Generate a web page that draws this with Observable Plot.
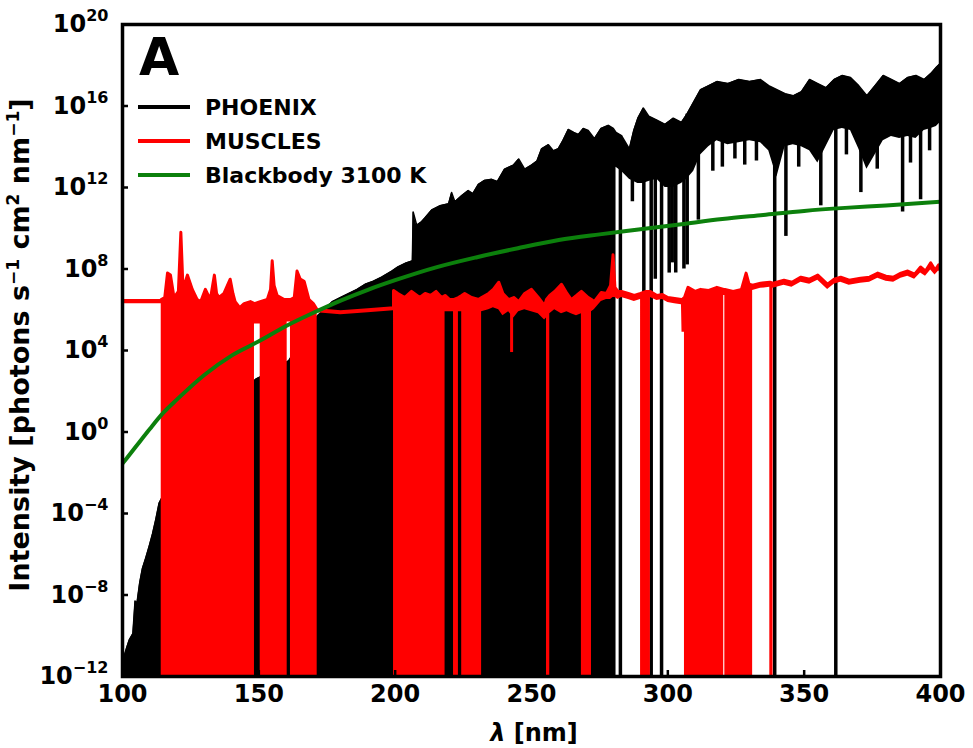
<!DOCTYPE html>
<html>
<head>
<meta charset="utf-8">
<script src="https://cdn.jsdelivr.net/npm/d3@7"></script>
<script src="https://cdn.jsdelivr.net/npm/@observablehq/plot@0.6"></script>
<style>
  body { margin: 0; background: #fff; }
  #chart svg { display: block; }
</style>
</head>
<body>
<div id="chart"></div>
<script>
// ---------------- DATA (log10 of intensity, photons s^-1 cm^-2 nm^-1) ----------------
// PHOENIX model: [wavelength nm, upper envelope log10, lower envelope log10] (-13 = below plot floor)
const phoenixSpectrum = [
  [100.0,-12.6,-13],[100.6,-11.0,-13],[101.5,-10.6,-13],[102.5,-10.2,-13],[103.8,-9.9,-13],
  [104.6,-8.3,-13],[105.3,-8.4,-13],[106.3,-7.4,-13],[107.3,-6.7,-13],[108.5,-6.2,-13],
  [109.8,-5.6,-13],[111.0,-5.0,-13],[112.2,-4.3,-13],[113.4,-3.5,-13],[120,-1.8,-13],
  [130,0.2,-13],[140,1.6,-13],[149,2.6,-13],[155,3.0,-13],[161,3.5,-13],[166,4.6,-13],
  [171.5,5.7,-13],[174,6.0,-13],[177,6.4,-13],[180,6.6,-13],[183,6.8,-13],[186,7.0,-13],
  [189,7.25,-13],[192,7.4,-13],[195,7.6,-13],[198.8,7.9,-13],[201,8.1,-13],[204,8.3,-13],
  [206.3,8.4,-13],[206.6,10.8,-13],[207.9,10.15,-13],[209.5,10.3,-13],[210.9,10.5,-13],
  [213.4,10.9,-13],[216.4,11.1,-13],[219.6,11.2,-13],[220.7,11.75,-13],[221.9,11.3,-13],
  [224.4,11.6,-13],[226.8,11.85,-13],[228.5,11.7,-13],[230.5,12.15,-13],[232.8,12.35,-13],
  [235.4,12.4,-13],[237.5,12.3,-13],[240.1,12.9,-13],[243.4,13.1,-13],[245.3,13.4,-13],
  [247.5,12.9,-13],[250.0,13.1,-13],[252,13.3,-13],[253.7,13.9,-13],[256.2,14.1,-13],
  [258,13.8,-13],[259.8,13.9,-13],[261.5,14.3,-13],[263.5,14.85,-13],[265.5,14.7,-13],
  [267.2,14.6,-13],[269,14.9,-13],[270.8,14.8,-13],[273.1,14.4,-13],[275.5,14.9,-13],
  [278.2,15.05,-13],[280.0,14.9,-13],[281.0,14.7,-13],
  [281.0,14.7,13.0],[283.0,14.55,12.8],[285.9,13.9,12.4],[287.5,14.8,12.3],[289.0,15.4,12.2],
  [291.0,15.9,12.2],[293.0,15.5,12.3],[296.0,15.3,12.4],[299.0,15.1,12.0],[302.0,15.4,12.0],
  [305.0,15.2,12.2],[307.0,15.6,12.4],[309.5,16.2,12.8],[312.0,16.8,13.6],[315.0,17.0,14.0],
  [318.0,17.2,14.3],[322.0,17.1,14.1],[326.0,17.3,14.2],[330.0,17.2,14.3],[334.0,17.3,14.2],
  [337.0,17.0,13.8],[340.0,16.8,12.5],[343.0,16.6,14.0],[346.0,16.5,14.1],[349.0,16.7,14.0],
  [352.0,17.3,13.8],[355.0,17.1,13.2],[358.0,16.9,14.0],[361.0,17.3,14.8],[364.0,17.5,14.9],
  [367.0,17.4,14.8],[370.0,17.0,13.9],[373.0,16.5,12.9],[376.0,17.0,13.6],[379.0,17.5,14.3],
  [382.0,17.3,14.5],[385.0,17.1,14.4],[388.0,17.4,14.5],[391.0,17.5,14.4],[394.0,17.3,14.8],
  [396.5,17.6,14.9],[398.5,17.9,15.0],[400.0,18.1,15.2]
];
// PHOENIX narrow absorption lines: [wavelength nm, minimum log10]
const phoenixLines = [
  [282.6,-13],[291.2,-13],[293.9,-13],[297.7,-13],[339.2,-13],[361.6,-13],
  [287.0,11.3],[295.4,7.5],[300.5,7.8],[301.6,8.3],[302.9,7.8],[305.9,8.0],[307.1,8.2],
  [311.2,10.4],[316.5,12.8],[320.0,13.0],[324.6,13.4],[328.2,13.1],[332.5,13.3],
  [343.3,9.6],[348.0,13.0],[356.1,11.1],[365.5,13.6],[370.8,11.75],[376.8,12.9],
  [386.1,10.8],[389.0,13.2],[392.7,11.4],[396.0,13.8]
];
// MUSCLES spectrum: [wavelength nm, upper log10, lower log10]
const musclesSpectrum = [
  [100,6.45,6.3],[114.2,6.45,6.3],[114.2,6.5,-13],[115.5,6.6,-13],[116.5,7.8,-13],[117.6,7.7,-13],
  [118.9,6.6,-13],[120.5,6.9,-13],[121.4,9.8,-13],[122.2,7.0,-13],[123.8,7.7,-13],[125.6,7.0,-13],
  [127.4,6.5,-13],[128.7,6.4,-13],[130.4,7.0,-13],[132.2,6.5,-13],[133.7,7.7,-13],[134.5,6.8,-13],
  [135.4,6.6,-13],[137.2,6.8,-13],[139.5,7.5,-13],[140.5,6.8,-13],[141.3,6.4,-13],[143.0,6.1,-13],
  [144.6,6.3,-13],[146.9,6.4,-13],[148.4,6.3,-13],[148.4,6.3,5.3],[150.5,6.4,5.3],[150.5,6.4,-13],
  [153.1,6.5,-13],[154.3,7.0,-13],[154.9,8.4,-13],[155.6,7.2,-13],[156.7,6.7,-13],[159.3,6.5,-13],
  [160.4,6.5,-13],[160.4,6.5,5.4],[161.6,6.5,5.4],[161.6,6.5,-13],[163.0,6.6,-13],[164.0,7.9,-13],
  [165.2,7.5,-13],[166.6,7.4,-13],[168.4,6.5,-13],[170.0,6.3,-13],[171.4,6.0,-13],[171.4,6.0,5.85],
  [180,5.9,5.75],[190,6.0,5.85],[199.4,6.1,5.95],[199.4,6.95,-13],[201,6.8,-13],[203.5,6.6,-13],
  [206,6.9,-13],[209,6.6,-13],[211,6.8,-13],[213,6.7,-13],[215,6.9,-13],[217,6.6,-13],
  [218.3,6.7,-13],[218.3,6.7,5.9],[220,6.5,5.9],[221.4,6.5,5.9],[221.4,6.5,-13],[223.2,6.6,-13],
  [223.2,6.6,5.9],[224.4,6.7,5.9],[224.4,6.7,-13],[225.5,6.8,-13],[228,6.6,-13],[230.6,6.5,-13],
  [231.7,6.6,-13],[231.7,6.6,5.9],[234.3,6.8,6.0],[236,7.0,6.1],[238,7.35,6.0],[239.5,6.8,5.7],
  [241.6,6.5,5.9],[243.5,6.6,5.6],[245.3,6.4,5.9],[247.5,6.8,6.0],[250,7.0,5.9],[252.5,6.6,5.8],
  [254.8,6.2,5.5],[255.5,6.5,5.6],[255.5,6.5,-13],[256.7,6.7,-13],[256.7,6.7,5.8],[258.5,6.9,6.0],
  [261,7.25,5.8],[263,6.8,5.9],[264.6,6.5,5.8],[266.5,6.7,5.7],[268.3,6.9,5.8],[268.3,6.9,-13],
  [270.8,6.6,-13],[272,6.5,-13],[272,6.5,5.9],[273,6.4,6.0],[275.6,6.85,6.4],[277.5,6.8,6.5],
  [279.0,7.2,6.5],[279.9,8.7,6.6],[280.6,7.1,6.6],[281.7,6.9,6.5],[283,6.9,6.6],[285.5,6.8,6.5],
  [287.7,6.7,6.4],[290.0,6.8,6.5],[290.0,6.8,-13],[292,6.9,-13],[293.6,6.9,-13],[293.6,6.9,6.6],
  [296,6.7,6.45],[298,6.75,6.5],[300,6.6,6.35],[302.5,6.55,6.3],[305.0,6.5,6.25],[305.2,6.5,4.9],
  [306.1,6.6,4.9],[306.1,6.6,-13],[307.4,7.1,-13],[310,6.9,-13],[312,7.0,-13],[315,6.95,-13],
  [318,7.1,-13],[320.5,7.0,-13],[320.5,7.0,6.7],[320.9,7.0,6.7],[320.9,7.0,-13],[324,6.9,-13],
  [327,7.0,-13],[328.7,7.8,-13],[329.8,7.25,-13],[331.1,7.2,-13],[331.1,7.2,6.95],[334,7.3,7.05],
  [337.4,7.35,7.1],[337.4,7.35,-13],[338.6,7.3,-13],[338.6,7.3,7.05],[342.6,7.45,7.2],[345.5,7.35,7.1],
  [348.8,7.6,7.35],[352,7.5,7.25],[355,7.7,7.45],[358.6,7.25,7.0],[361,7.5,7.25],[363.4,7.6,7.35],
  [366.5,7.45,7.2],[370.7,7.55,7.3],[374,7.6,7.35],[377,7.8,7.55],[380,7.65,7.4],[382.8,7.6,7.35],
  [385.5,7.8,7.55],[388,7.9,7.65],[390.5,7.75,7.5],[392.7,8.1,7.8],[394.5,7.9,7.65],[396.4,8.3,7.95],
  [398,7.95,7.7],[399.3,8.2,7.9],[400,8.1,7.85]
];
// MUSCLES narrow drops: [wavelength nm, minimum log10]
const musclesLines = [[242.7,3.9]];
// Blackbody 3100 K: wavelength nm / log10 intensity
const blackbodyWl  = [100,105,110,115,120,130,140,150,160,170,180,190,200,215,230,245,260,275,290,305,320,335,350,365,380,400];
const blackbodyLog = [-1.55,-0.7,0.15,0.95,1.6,2.8,3.75,4.45,5.2,5.85,6.45,6.98,7.45,8.08,8.58,9.02,9.42,9.7,9.95,10.2,10.45,10.65,10.85,11.0,11.12,11.3];

const seriesNames = ["PHOENIX", "MUSCLES", "Blackbody 3100 K"];
const xTicks = [100, 150, 200, 250, 300, 350, 400];
const yTickExponents = [-12, -8, -4, 0, 4, 8, 12, 16, 20];

// ---------------- BUILD ----------------
const colors = {PHOENIX: "#000000", MUSCLES: "#ff0000", "Blackbody 3100 K": "#0c800c"};
const toRows = spec => spec.map(([wl, hi, lo]) => ({wl, hi: 10 ** hi, lo: 10 ** lo}));
const phoenix = toRows(phoenixSpectrum);
const muscles = toRows(musclesSpectrum);
const bb = blackbodyWl.map((wl, i) => ({wl, v: 10 ** blackbodyLog[i]}));
function topAt(spec, wl) {
  let i = spec.findIndex(d => d[0] >= wl);
  if (i <= 0) i = 1;
  return Math.min(spec[i - 1][1], spec[i][1]);
}
const phoenixLineRows = phoenixLines.map(([wl, m]) => ({wl, y1: 10 ** m, y2: 10 ** topAt(phoenixSpectrum, wl)}));
const musclesLineRows = musclesLines.map(([wl, m]) => ({wl, y1: 10 ** m, y2: 10 ** topAt(musclesSpectrum, wl)}));
const yTicks = yTickExponents.map(e => 10 ** e);

const chart = Plot.plot({
  width: 973,
  height: 748,
  marginLeft: 122,
  marginRight: 33,
  marginTop: 24,
  marginBottom: 72,
  style: {fontFamily: "'DejaVu Sans', sans-serif", fontSize: "24px", fontWeight: "bold", color: "black", background: "white", overflow: "visible"},
  x: {domain: [100, 400]},
  y: {type: "log", domain: [1e-12, 1e20]},
  marks: [
    Plot.areaY(phoenix, {x: "wl", y1: "lo", y2: "hi", fill: colors.PHOENIX, clip: true}),
    Plot.line(phoenix, {x: "wl", y: "hi", stroke: colors.PHOENIX, strokeWidth: 1.5, clip: true}),
    Plot.ruleX(phoenixLineRows, {x: "wl", y1: "y1", y2: "y2", stroke: colors.PHOENIX, strokeWidth: 3.5, clip: true}),
    Plot.areaY(muscles, {x: "wl", y1: "lo", y2: "hi", fill: colors.MUSCLES, clip: true}),
    Plot.line(muscles, {x: "wl", y: "hi", stroke: colors.MUSCLES, strokeWidth: 3, clip: true}),
    Plot.ruleX(musclesLineRows, {x: "wl", y1: "y1", y2: "y2", stroke: colors.MUSCLES, strokeWidth: 3, clip: true}),
    Plot.line(bb, {x: "wl", y: "v", stroke: colors["Blackbody 3100 K"], strokeWidth: 4, curve: "monotone-x", clip: true}),
    Plot.frame({stroke: "black", strokeWidth: 3.5}),
    Plot.axisX(xTicks, {anchor: "bottom", tickSize: -6, strokeWidth: 2.5, fill: "none", label: null}),
    Plot.axisX(xTicks, {anchor: "bottom", tickSize: 0, tickPadding: 8, stroke: "none", label: null, fontSize: 24}),
    Plot.axisY(yTicks, {anchor: "left", tickSize: -6, strokeWidth: 2.5, fill: "none", label: null}),
    Plot.axisY(yTicks, {anchor: "left", tickSize: 0, tickPadding: 14, stroke: "none", label: null, fontSize: 24,
      tickFormat: d => String(Math.round(Math.log10(d))).replace("-", "\u2212")})
  ]
});
document.getElementById("chart").appendChild(chart);

// ---------------- TEXT DECORATIONS ----------------
const svg = d3.select(chart);
// y tick labels: 10 with superscript exponent
svg.selectAll('g[aria-label="y-axis tick label"] text').each(function () {
  const t = d3.select(this);
  const e = t.text();
  t.text("");
  t.append("tspan").text("10");
  t.append("tspan").attr("font-size", 16).attr("dy", -11).text(e);
});
// y title
const yTitle = svg.append("text")
  .attr("transform", "translate(29,345) rotate(-90)")
  .attr("text-anchor", "middle").attr("font-size", 27).attr("font-weight", "bold")
  .attr("fill", "black").style("white-space", "pre");
const parts = [["Intensity [photons s", false], ["\u22121", true], [" cm", false], ["2", true], [" nm", false], ["\u22121", true], ["]", false]];
let shifted = false;
for (const [txt, sup] of parts) {
  const ts = yTitle.append("tspan").text(txt);
  if (sup) { ts.attr("font-size", 17).attr("dy", -10); shifted = true; }
  else if (shifted) { ts.attr("dy", 10); shifted = false; }
}
// x title
const xTitle = svg.append("text")
  .attr("x", 534).attr("y", 741).attr("text-anchor", "middle")
  .attr("font-size", 24).attr("font-weight", "bold").attr("fill", "black").style("white-space", "pre");
xTitle.append("tspan").attr("font-style", "italic").text("\u03bb");
xTitle.append("tspan").text(" [nm]");
// panel letter
svg.append("text").attr("x", 139).attr("y", 75).attr("text-anchor", "start")
  .attr("font-size", 52).attr("font-weight", "bold").attr("fill", "black").text("A");
// legend
seriesNames.forEach((name, i) => {
  const y = 107 + i * 34;
  svg.append("line").attr("x1", 138).attr("x2", 190).attr("y1", y).attr("y2", y)
    .attr("stroke", colors[name]).attr("stroke-width", 4);
  svg.append("text").attr("x", 205).attr("y", y).attr("dy", "0.35em").attr("text-anchor", "start")
    .attr("font-size", 22).attr("font-weight", "bold").attr("fill", "black").text(name);
});
</script>
</body>
</html>
